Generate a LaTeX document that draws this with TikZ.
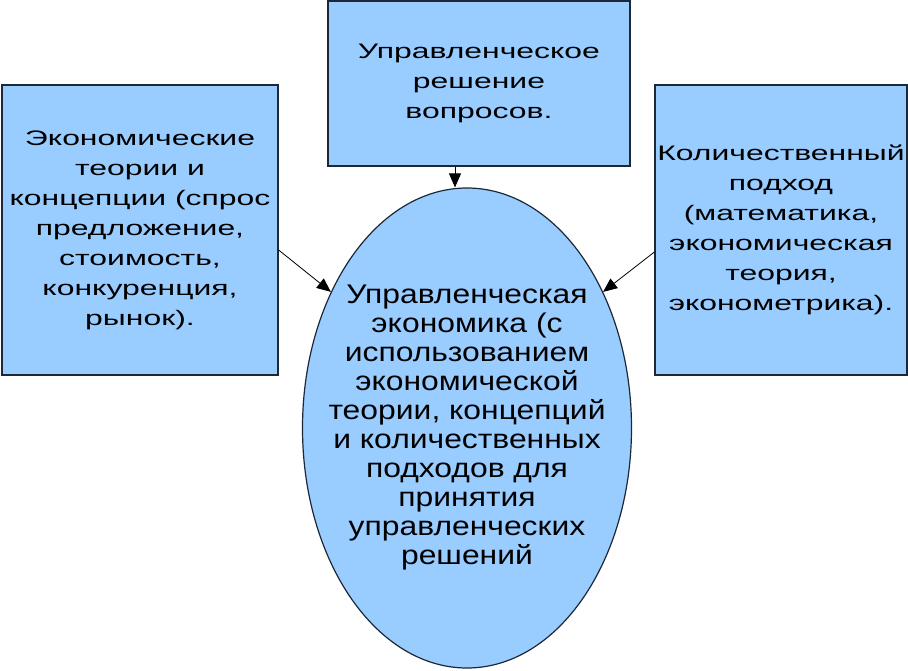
\documentclass[tikz,border=0pt]{standalone}
\usepackage{fontspec}
\usepackage{xcolor}
\usetikzlibrary{arrows.meta, positioning, shapes.geometric}
\newfontfamily\boxfont[FakeStretch=1.52]{Liberation Sans}
\newfontfamily\ellfont[FakeStretch=1.18]{Liberation Sans}
\definecolor{boxblue}{HTML}{99CCFF}
\definecolor{boxline}{HTML}{1C2838}

\begin{document}
\begin{tikzpicture}[x=1pt,y=-1pt,font=\boxfont\fontsize{21}{30}\selectfont]
    \tikzstyle{block}=[shape=rectangle,draw=boxline,line width=1.2pt,fill=boxblue,align=center,inner sep=0pt]
    \tikzstyle{centre}=[shape=ellipse,draw=boxline,line width=1.2pt,fill=boxblue,align=center,inner xsep=-23pt,inner ysep=0pt,font=\ellfont\fontsize{27}{29}\selectfont]
    \tikzstyle{arr}=[-{Triangle[length=14pt,width=12pt]},line width=0.8pt,black]

    \useasboundingbox (0,0) rectangle (908,670);

    \node[block, minimum width=302pt, minimum height=165pt] (top) at (479,83.5)
        {Управленческое\\решение\\вопросов.};
    \node[block, minimum width=276pt, minimum height=290pt] (left) at (140,230)
        {Экономические\\теории и\\концепции (спрос\\предложение,\\стоимость,\\конкуренция,\\рынок).};
    \node[block, minimum width=252pt, minimum height=290pt] (right) at (781,230)
        {Количественный\\подход\\(математика,\\экономическая\\теория,\\эконометрика).};
    \node[centre, minimum width=329pt, minimum height=480pt] (ell) at (467,428)
        {Управленческая\\экономика (с\\использованием\\экономической\\теории, концепций\\и количественных\\подходов для\\принятия\\управленческих\\решений};

    \draw[arr] ([xshift=-24pt]top.south) -- ([xshift=-12pt]ell.north);
    \draw[arr] ([yshift=-20pt]left.east) -- (ell.135);
    \draw[arr] ([yshift=-22pt]right.west) -- (ell.45);
\end{tikzpicture}
\end{document}
